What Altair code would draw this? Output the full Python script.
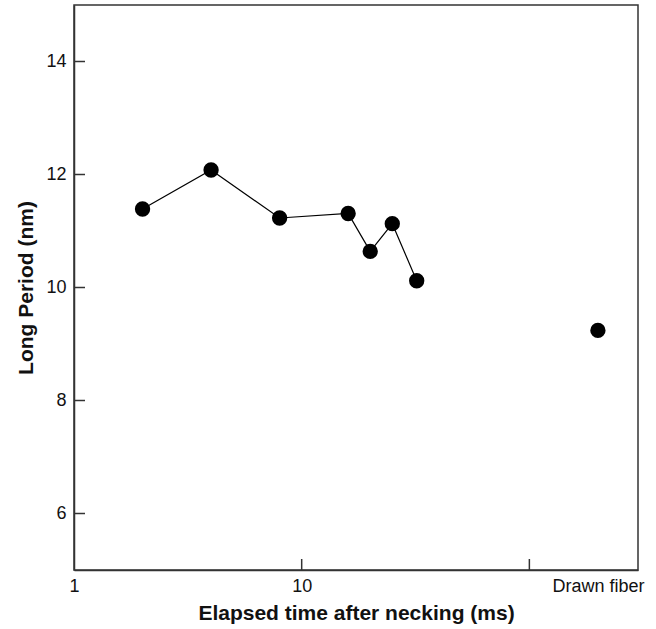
import altair as alt
import pandas as pd

# Data
times = [2, 4, 8, 16, 20, 25, 32]
periods = [11.39, 12.08, 11.23, 11.31, 10.64, 11.13, 10.12]
drawn_time = [200]
drawn_period = [9.24]
x_tick_values = [1, 10, 100, 200]
x_inner_ticks = [10, 100]
y_tick_values = [6, 8, 10, 12, 14]

W, H = 564, 565
FONT = "Liberation Sans"
AX = "#333333"

series = pd.DataFrame({"t": times, "lp": periods})
allpts = pd.DataFrame({"t": times + drawn_time, "lp": periods + drawn_period})
xt = pd.DataFrame({"t": x_inner_ticks})
yt = pd.DataFrame({"lp": y_tick_values})

xscale = alt.Scale(type="log", domain=[1, 300])
yscale = alt.Scale(domain=[5, 15], nice=False, zero=False)

xaxis = alt.Axis(
    title="Elapsed time after necking (ms)",
    values=x_tick_values,
    labelExpr="datum.value == 1 ? '1' : datum.value == 10 ? '10' : datum.value == 200 ? 'Drawn fiber' : ''",
    ticks=False, grid=False, labelFlush=False, labelOverlap=False,
    labelFontSize=18, labelFont=FONT, labelColor="#111", labelPadding=7,
    titleFontSize=21, titleFont=FONT, titleFontWeight="bold", titleColor="#111", titlePadding=7,
    domainColor=AX, domainWidth=1.5,
)
yaxis = alt.Axis(
    title="Long Period (nm)",
    values=y_tick_values,
    format="d",
    ticks=False, grid=False,
    labelFontSize=18, labelFont=FONT, labelColor="#111", labelPadding=8,
    titleFontSize=21, titleFont=FONT, titleFontWeight="bold", titleColor="#111", titlePadding=9,
    domainColor=AX, domainWidth=1.5,
)

line = alt.Chart(series).mark_line(color="black", strokeWidth=1.2).encode(
    x=alt.X("t:Q", scale=xscale, axis=xaxis),
    y=alt.Y("lp:Q", scale=yscale, axis=yaxis),
)
points = alt.Chart(allpts).mark_circle(color="black", opacity=1, size=235).encode(
    x=alt.X("t:Q", scale=xscale),
    y=alt.Y("lp:Q", scale=yscale),
)
xticks = alt.Chart(xt).mark_rule(color=AX, strokeWidth=1.5).encode(
    x=alt.X("t:Q", scale=xscale),
    y=alt.value(H),
    y2=alt.value(H - 11),
)
yticks = alt.Chart(yt).mark_rule(color=AX, strokeWidth=1.5).encode(
    y=alt.Y("lp:Q", scale=yscale),
    x=alt.value(0),
    x2=alt.value(11),
)

chart = alt.layer(line, points, xticks, yticks).properties(
    width=W, height=H,
    autosize=alt.AutoSizeParams(type="none"),
    padding={"left": 74, "top": 5, "right": 18, "bottom": 59},
    background="white",
).configure_view(stroke=AX, strokeWidth=1.5)

chart.save("out.html", embed_options={"renderer": "svg", "actions": False})
